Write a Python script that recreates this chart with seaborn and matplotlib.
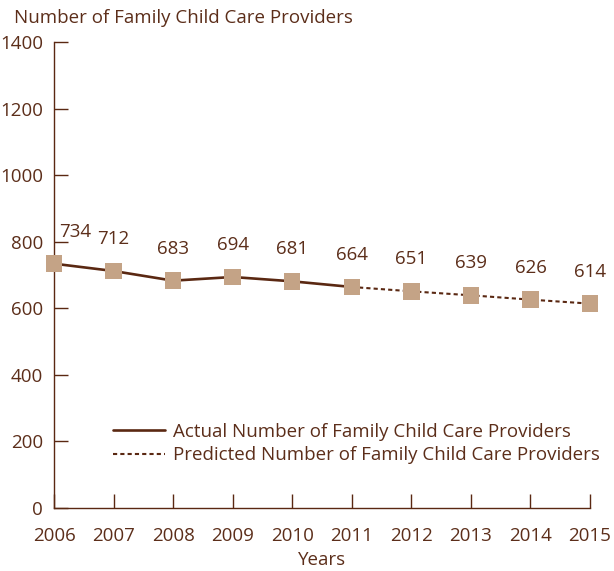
import matplotlib
matplotlib.use("Agg")
import matplotlib.pyplot as plt
import seaborn as sns
import pandas as pd
from matplotlib.lines import Line2D

years = [2006, 2007, 2008, 2009, 2010, 2011, 2012, 2013, 2014, 2015]
providers = [734, 712, 683, 694, 681, 664, 651, 639, 626, 614]
actual_years = years[:6]
actual_vals = providers[:6]
pred_years = years[5:]
pred_vals = providers[5:]
yticks = [0, 200, 400, 600, 800, 1000, 1200, 1400]

brown = "#5a2812"
tan = "#c4a386"
txt = "#5c2e1a"
fs = 13.5

sns.set_theme(style="white")
plt.rcParams['font.family'] = ['Open Sans', 'DejaVu Sans']

fig = plt.figure(figsize=(6.14, 5.71), dpi=100)
ax = fig.add_axes([54/614, 1-508/571, (590-54)/614, (508-42)/571])

df_a = pd.DataFrame({"Year": actual_years, "Value": actual_vals})
df_p = pd.DataFrame({"Year": pred_years, "Value": pred_vals})
sns.lineplot(data=df_a, x="Year", y="Value", ax=ax, color=brown, lw=1.9, clip_on=False)
sns.lineplot(data=df_p, x="Year", y="Value", ax=ax, color=brown, lw=1.5,
             linestyle=(0, (2, 1.5)), clip_on=False)
df_all = pd.DataFrame({"Year": years, "Value": providers})
sns.scatterplot(data=df_all, x="Year", y="Value", ax=ax, marker="s", s=140,
                color=tan, edgecolor="none", zorder=5, clip_on=False)

for i, (x, y) in enumerate(zip(years, providers)):
    dx = 15 if i == 0 else 0
    ax.annotate(str(y), (x, y), xytext=(dx, 23), textcoords="offset points",
                ha="center", va="center", fontsize=fs, color=txt)

ax.set_xlim(2006, 2015)
ax.set_ylim(0, 1400)
ax.set_xticks(years)
ax.set_yticks(yticks)
ax.set_xticklabels([str(y) for y in years])
ax.set_yticklabels([str(v) for v in yticks])
ax.tick_params(axis="both", which="major", bottom=True, left=True, direction="in",
               length=10, width=1, color=brown, labelsize=fs, labelcolor=txt)
ax.tick_params(axis="x", pad=14)
ax.tick_params(axis="y", pad=8)
for s in ["top", "right"]:
    ax.spines[s].set_visible(False)
for s in ["left", "bottom"]:
    ax.spines[s].set_color(brown)
    ax.spines[s].set_linewidth(1)
ax.set_xlabel("Years", fontsize=fs, color=txt, labelpad=4)
ax.set_ylabel("")
ax.grid(False)

fig.text(14/614, 1-18/571, "Number of Family Child Care Providers", fontsize=fs,
         color=txt, ha="left", va="center")

handles = [Line2D([0], [0], color=brown, lw=1.9),
           Line2D([0], [0], color=brown, lw=1.5, linestyle=(0, (2, 1.5)))]
leg = ax.legend(handles, ["Actual Number of Family Child Care Providers",
                          "Predicted Number of Family Child Care Providers"],
                loc="lower left", bbox_to_anchor=(0.11, 0.094), frameon=False,
                fontsize=fs, handlelength=2.8, handletextpad=0.4, labelspacing=0.3,
                borderaxespad=0, borderpad=0)
for t in leg.get_texts():
    t.set_color(txt)

fig.savefig("out.png", dpi=100)
